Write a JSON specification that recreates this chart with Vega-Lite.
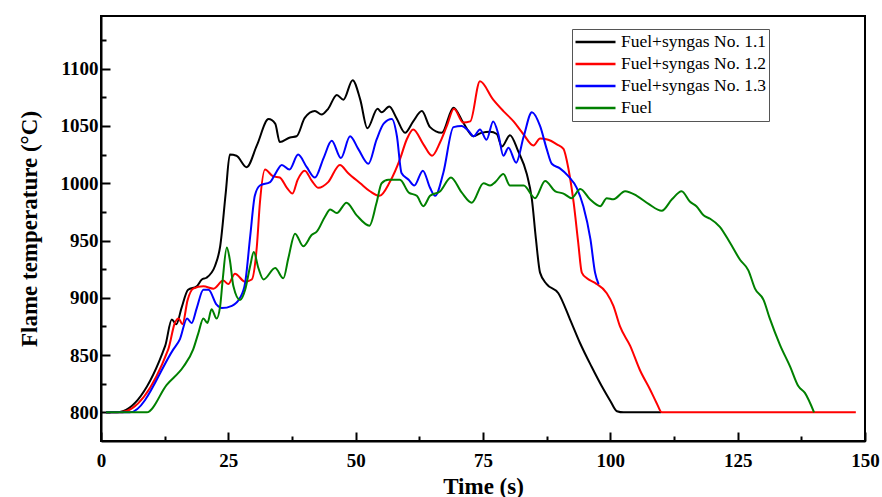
{
"$schema": "https://vega.github.io/schema/vega-lite/v6.json",
"width": 764, "height": 425,
"autosize": {"type": "none"},
"padding": {"left": 101, "top": 16, "right": 17, "bottom": 56},
"background": "white",
"config": {"view": {"stroke": "black", "strokeWidth": 2}, "font": "Liberation Serif"},
"data": {"values": [
{"t":1,"T":800,"s":"Fuel+syngas No. 1.1"},{"t":3.1,"T":800,"s":"Fuel+syngas No. 1.1"},{"t":12.6,"T":858,"s":"Fuel+syngas No. 1.1"},{"t":13.9,"T":881,"s":"Fuel+syngas No. 1.1"},{"t":14.8,"T":877,"s":"Fuel+syngas No. 1.1"},{"t":15.8,"T":891,"s":"Fuel+syngas No. 1.1"},{"t":17.1,"T":907,"s":"Fuel+syngas No. 1.1"},{"t":18.8,"T":910,"s":"Fuel+syngas No. 1.1"},{"t":19.8,"T":916,"s":"Fuel+syngas No. 1.1"},{"t":20.7,"T":917.5,"s":"Fuel+syngas No. 1.1"},{"t":22.4,"T":928,"s":"Fuel+syngas No. 1.1"},{"t":23.4,"T":945,"s":"Fuel+syngas No. 1.1"},{"t":24.5,"T":992,"s":"Fuel+syngas No. 1.1"},{"t":25.3,"T":1025,"s":"Fuel+syngas No. 1.1"},{"t":26.6,"T":1024,"s":"Fuel+syngas No. 1.1"},{"t":28.6,"T":1014,"s":"Fuel+syngas No. 1.1"},{"t":30.6,"T":1033,"s":"Fuel+syngas No. 1.1"},{"t":32.9,"T":1056,"s":"Fuel+syngas No. 1.1"},{"t":34.2,"T":1052,"s":"Fuel+syngas No. 1.1"},{"t":35.1,"T":1036,"s":"Fuel+syngas No. 1.1"},{"t":37.1,"T":1040,"s":"Fuel+syngas No. 1.1"},{"t":38.4,"T":1041,"s":"Fuel+syngas No. 1.1"},{"t":40.0,"T":1057,"s":"Fuel+syngas No. 1.1"},{"t":42.0,"T":1063,"s":"Fuel+syngas No. 1.1"},{"t":43.3,"T":1060,"s":"Fuel+syngas No. 1.1"},{"t":44.6,"T":1065,"s":"Fuel+syngas No. 1.1"},{"t":46.3,"T":1077,"s":"Fuel+syngas No. 1.1"},{"t":47.6,"T":1073,"s":"Fuel+syngas No. 1.1"},{"t":49.4,"T":1090,"s":"Fuel+syngas No. 1.1"},{"t":50.9,"T":1073,"s":"Fuel+syngas No. 1.1"},{"t":52.3,"T":1048,"s":"Fuel+syngas No. 1.1"},{"t":54.3,"T":1065,"s":"Fuel+syngas No. 1.1"},{"t":55.1,"T":1062,"s":"Fuel+syngas No. 1.1"},{"t":56.6,"T":1067,"s":"Fuel+syngas No. 1.1"},{"t":58.0,"T":1057,"s":"Fuel+syngas No. 1.1"},{"t":59.7,"T":1044,"s":"Fuel+syngas No. 1.1"},{"t":61.3,"T":1054,"s":"Fuel+syngas No. 1.1"},{"t":63.0,"T":1063,"s":"Fuel+syngas No. 1.1"},{"t":64.6,"T":1049,"s":"Fuel+syngas No. 1.1"},{"t":66.9,"T":1044,"s":"Fuel+syngas No. 1.1"},{"t":69.2,"T":1066,"s":"Fuel+syngas No. 1.1"},{"t":71.1,"T":1053,"s":"Fuel+syngas No. 1.1"},{"t":73.1,"T":1041,"s":"Fuel+syngas No. 1.1"},{"t":74.7,"T":1044,"s":"Fuel+syngas No. 1.1"},{"t":76.4,"T":1045,"s":"Fuel+syngas No. 1.1"},{"t":77.7,"T":1043,"s":"Fuel+syngas No. 1.1"},{"t":78.7,"T":1032,"s":"Fuel+syngas No. 1.1"},{"t":80.3,"T":1042,"s":"Fuel+syngas No. 1.1"},{"t":81.9,"T":1028,"s":"Fuel+syngas No. 1.1"},{"t":83.6,"T":1008,"s":"Fuel+syngas No. 1.1"},{"t":84.6,"T":986,"s":"Fuel+syngas No. 1.1"},{"t":85.4,"T":951,"s":"Fuel+syngas No. 1.1"},{"t":86.2,"T":922,"s":"Fuel+syngas No. 1.1"},{"t":87.5,"T":912,"s":"Fuel+syngas No. 1.1"},{"t":89.8,"T":904,"s":"Fuel+syngas No. 1.1"},{"t":92.1,"T":881,"s":"Fuel+syngas No. 1.1"},{"t":94.0,"T":861,"s":"Fuel+syngas No. 1.1"},{"t":96.3,"T":840,"s":"Fuel+syngas No. 1.1"},{"t":98.3,"T":823,"s":"Fuel+syngas No. 1.1"},{"t":100.0,"T":810,"s":"Fuel+syngas No. 1.1"},{"t":101.3,"T":801,"s":"Fuel+syngas No. 1.1"},{"t":102.6,"T":800,"s":"Fuel+syngas No. 1.1"},{"t":110,"T":800,"s":"Fuel+syngas No. 1.1"},
{"t":1,"T":800,"s":"Fuel+syngas No. 1.2"},{"t":3.7,"T":800,"s":"Fuel+syngas No. 1.2"},{"t":13.2,"T":855,"s":"Fuel+syngas No. 1.2"},{"t":14.5,"T":878,"s":"Fuel+syngas No. 1.2"},{"t":15.2,"T":882,"s":"Fuel+syngas No. 1.2"},{"t":16.0,"T":877,"s":"Fuel+syngas No. 1.2"},{"t":17.0,"T":898,"s":"Fuel+syngas No. 1.2"},{"t":18.1,"T":908,"s":"Fuel+syngas No. 1.2"},{"t":20.1,"T":910,"s":"Fuel+syngas No. 1.2"},{"t":22.1,"T":908,"s":"Fuel+syngas No. 1.2"},{"t":24.0,"T":915,"s":"Fuel+syngas No. 1.2"},{"t":25.0,"T":912,"s":"Fuel+syngas No. 1.2"},{"t":26.3,"T":921,"s":"Fuel+syngas No. 1.2"},{"t":28.3,"T":914,"s":"Fuel+syngas No. 1.2"},{"t":29.6,"T":916,"s":"Fuel+syngas No. 1.2"},{"t":30.6,"T":945,"s":"Fuel+syngas No. 1.2"},{"t":31.2,"T":983,"s":"Fuel+syngas No. 1.2"},{"t":32.2,"T":1012,"s":"Fuel+syngas No. 1.2"},{"t":33.8,"T":1006,"s":"Fuel+syngas No. 1.2"},{"t":35.1,"T":1005,"s":"Fuel+syngas No. 1.2"},{"t":36.5,"T":996,"s":"Fuel+syngas No. 1.2"},{"t":37.6,"T":991,"s":"Fuel+syngas No. 1.2"},{"t":38.6,"T":1003,"s":"Fuel+syngas No. 1.2"},{"t":40.0,"T":1011,"s":"Fuel+syngas No. 1.2"},{"t":41.4,"T":1002,"s":"Fuel+syngas No. 1.2"},{"t":42.7,"T":996,"s":"Fuel+syngas No. 1.2"},{"t":44.6,"T":1001,"s":"Fuel+syngas No. 1.2"},{"t":46.9,"T":1016,"s":"Fuel+syngas No. 1.2"},{"t":48.5,"T":1009,"s":"Fuel+syngas No. 1.2"},{"t":50.9,"T":1000,"s":"Fuel+syngas No. 1.2"},{"t":52.8,"T":993,"s":"Fuel+syngas No. 1.2"},{"t":54.7,"T":989,"s":"Fuel+syngas No. 1.2"},{"t":56.7,"T":1001,"s":"Fuel+syngas No. 1.2"},{"t":58.7,"T":1021,"s":"Fuel+syngas No. 1.2"},{"t":60.0,"T":1038,"s":"Fuel+syngas No. 1.2"},{"t":61.3,"T":1047,"s":"Fuel+syngas No. 1.2"},{"t":63.3,"T":1034,"s":"Fuel+syngas No. 1.2"},{"t":65.0,"T":1024,"s":"Fuel+syngas No. 1.2"},{"t":66.6,"T":1036,"s":"Fuel+syngas No. 1.2"},{"t":67.9,"T":1050,"s":"Fuel+syngas No. 1.2"},{"t":69.3,"T":1065,"s":"Fuel+syngas No. 1.2"},{"t":71.1,"T":1053,"s":"Fuel+syngas No. 1.2"},{"t":72.5,"T":1054,"s":"Fuel+syngas No. 1.2"},{"t":74.4,"T":1089,"s":"Fuel+syngas No. 1.2"},{"t":77.0,"T":1073,"s":"Fuel+syngas No. 1.2"},{"t":79.0,"T":1063,"s":"Fuel+syngas No. 1.2"},{"t":81.0,"T":1054,"s":"Fuel+syngas No. 1.2"},{"t":82.9,"T":1043,"s":"Fuel+syngas No. 1.2"},{"t":84.9,"T":1033,"s":"Fuel+syngas No. 1.2"},{"t":86.2,"T":1039,"s":"Fuel+syngas No. 1.2"},{"t":87.8,"T":1038,"s":"Fuel+syngas No. 1.2"},{"t":89.5,"T":1034,"s":"Fuel+syngas No. 1.2"},{"t":90.8,"T":1030,"s":"Fuel+syngas No. 1.2"},{"t":91.8,"T":1012,"s":"Fuel+syngas No. 1.2"},{"t":92.8,"T":983,"s":"Fuel+syngas No. 1.2"},{"t":93.7,"T":948,"s":"Fuel+syngas No. 1.2"},{"t":94.4,"T":922,"s":"Fuel+syngas No. 1.2"},{"t":95.4,"T":917,"s":"Fuel+syngas No. 1.2"},{"t":97.0,"T":913,"s":"Fuel+syngas No. 1.2"},{"t":99.3,"T":904,"s":"Fuel+syngas No. 1.2"},{"t":100.6,"T":893,"s":"Fuel+syngas No. 1.2"},{"t":101.9,"T":875,"s":"Fuel+syngas No. 1.2"},{"t":103.9,"T":858,"s":"Fuel+syngas No. 1.2"},{"t":105.8,"T":837,"s":"Fuel+syngas No. 1.2"},{"t":107.8,"T":820,"s":"Fuel+syngas No. 1.2"},{"t":109.1,"T":808,"s":"Fuel+syngas No. 1.2"},{"t":110.1,"T":800,"s":"Fuel+syngas No. 1.2"},{"t":148.2,"T":800,"s":"Fuel+syngas No. 1.2"},
{"t":1,"T":800,"s":"Fuel+syngas No. 1.3"},{"t":5.7,"T":800,"s":"Fuel+syngas No. 1.3"},{"t":14.2,"T":855,"s":"Fuel+syngas No. 1.3"},{"t":15.5,"T":864,"s":"Fuel+syngas No. 1.3"},{"t":16.9,"T":882,"s":"Fuel+syngas No. 1.3"},{"t":17.8,"T":878,"s":"Fuel+syngas No. 1.3"},{"t":18.8,"T":891,"s":"Fuel+syngas No. 1.3"},{"t":20.1,"T":907,"s":"Fuel+syngas No. 1.3"},{"t":21.1,"T":907,"s":"Fuel+syngas No. 1.3"},{"t":22.7,"T":894,"s":"Fuel+syngas No. 1.3"},{"t":23.7,"T":891,"s":"Fuel+syngas No. 1.3"},{"t":25.7,"T":893,"s":"Fuel+syngas No. 1.3"},{"t":27.3,"T":900,"s":"Fuel+syngas No. 1.3"},{"t":28.3,"T":913,"s":"Fuel+syngas No. 1.3"},{"t":29.3,"T":954,"s":"Fuel+syngas No. 1.3"},{"t":30.2,"T":989,"s":"Fuel+syngas No. 1.3"},{"t":31.2,"T":998,"s":"Fuel+syngas No. 1.3"},{"t":33.2,"T":1001,"s":"Fuel+syngas No. 1.3"},{"t":34.2,"T":1008,"s":"Fuel+syngas No. 1.3"},{"t":35.5,"T":1016,"s":"Fuel+syngas No. 1.3"},{"t":37.0,"T":1012,"s":"Fuel+syngas No. 1.3"},{"t":38.7,"T":1025,"s":"Fuel+syngas No. 1.3"},{"t":40.4,"T":1014,"s":"Fuel+syngas No. 1.3"},{"t":42.0,"T":1005,"s":"Fuel+syngas No. 1.3"},{"t":43.7,"T":1022,"s":"Fuel+syngas No. 1.3"},{"t":45.3,"T":1037,"s":"Fuel+syngas No. 1.3"},{"t":47.1,"T":1022,"s":"Fuel+syngas No. 1.3"},{"t":48.9,"T":1041,"s":"Fuel+syngas No. 1.3"},{"t":50.5,"T":1030,"s":"Fuel+syngas No. 1.3"},{"t":52.5,"T":1017,"s":"Fuel+syngas No. 1.3"},{"t":54.1,"T":1038,"s":"Fuel+syngas No. 1.3"},{"t":55.5,"T":1052,"s":"Fuel+syngas No. 1.3"},{"t":57.1,"T":1056,"s":"Fuel+syngas No. 1.3"},{"t":58.1,"T":1041,"s":"Fuel+syngas No. 1.3"},{"t":59.0,"T":1009,"s":"Fuel+syngas No. 1.3"},{"t":60.4,"T":1003,"s":"Fuel+syngas No. 1.3"},{"t":61.5,"T":998,"s":"Fuel+syngas No. 1.3"},{"t":63.2,"T":1011,"s":"Fuel+syngas No. 1.3"},{"t":64.6,"T":996,"s":"Fuel+syngas No. 1.3"},{"t":65.6,"T":989,"s":"Fuel+syngas No. 1.3"},{"t":67.2,"T":1009,"s":"Fuel+syngas No. 1.3"},{"t":69.2,"T":1049,"s":"Fuel+syngas No. 1.3"},{"t":70.8,"T":1050,"s":"Fuel+syngas No. 1.3"},{"t":72.1,"T":1046,"s":"Fuel+syngas No. 1.3"},{"t":73.2,"T":1041,"s":"Fuel+syngas No. 1.3"},{"t":74.4,"T":1047,"s":"Fuel+syngas No. 1.3"},{"t":75.7,"T":1038,"s":"Fuel+syngas No. 1.3"},{"t":77.0,"T":1054,"s":"Fuel+syngas No. 1.3"},{"t":78.0,"T":1043,"s":"Fuel+syngas No. 1.3"},{"t":79.0,"T":1024,"s":"Fuel+syngas No. 1.3"},{"t":80.0,"T":1031,"s":"Fuel+syngas No. 1.3"},{"t":81.5,"T":1018,"s":"Fuel+syngas No. 1.3"},{"t":83.0,"T":1041,"s":"Fuel+syngas No. 1.3"},{"t":84.6,"T":1062,"s":"Fuel+syngas No. 1.3"},{"t":86.2,"T":1050,"s":"Fuel+syngas No. 1.3"},{"t":87.5,"T":1030,"s":"Fuel+syngas No. 1.3"},{"t":88.5,"T":1017,"s":"Fuel+syngas No. 1.3"},{"t":90.1,"T":1013,"s":"Fuel+syngas No. 1.3"},{"t":91.8,"T":1006,"s":"Fuel+syngas No. 1.3"},{"t":93.4,"T":996,"s":"Fuel+syngas No. 1.3"},{"t":94.7,"T":980,"s":"Fuel+syngas No. 1.3"},{"t":96.1,"T":951,"s":"Fuel+syngas No. 1.3"},{"t":97.0,"T":922,"s":"Fuel+syngas No. 1.3"},{"t":97.7,"T":912,"s":"Fuel+syngas No. 1.3"},
{"t":1,"T":800,"s":"Fuel"},{"t":9.0,"T":800,"s":"Fuel"},{"t":12.9,"T":824,"s":"Fuel"},{"t":16.2,"T":840,"s":"Fuel"},{"t":18.1,"T":855,"s":"Fuel"},{"t":19.1,"T":869,"s":"Fuel"},{"t":20.1,"T":882,"s":"Fuel"},{"t":20.9,"T":878,"s":"Fuel"},{"t":21.7,"T":890,"s":"Fuel"},{"t":22.7,"T":882,"s":"Fuel"},{"t":23.4,"T":893,"s":"Fuel"},{"t":23.9,"T":916,"s":"Fuel"},{"t":24.7,"T":944,"s":"Fuel"},{"t":25.3,"T":933,"s":"Fuel"},{"t":26.0,"T":910,"s":"Fuel"},{"t":27.3,"T":898,"s":"Fuel"},{"t":28.3,"T":907,"s":"Fuel"},{"t":29.3,"T":928,"s":"Fuel"},{"t":30.0,"T":940,"s":"Fuel"},{"t":30.9,"T":926,"s":"Fuel"},{"t":31.9,"T":916,"s":"Fuel"},{"t":34.2,"T":926,"s":"Fuel"},{"t":35.8,"T":917,"s":"Fuel"},{"t":36.8,"T":935,"s":"Fuel"},{"t":38.1,"T":956,"s":"Fuel"},{"t":39.7,"T":945,"s":"Fuel"},{"t":41.4,"T":955,"s":"Fuel"},{"t":42.4,"T":958,"s":"Fuel"},{"t":44.0,"T":971,"s":"Fuel"},{"t":45.0,"T":977,"s":"Fuel"},{"t":46.3,"T":974,"s":"Fuel"},{"t":48.2,"T":983,"s":"Fuel"},{"t":50.2,"T":972,"s":"Fuel"},{"t":52.7,"T":963,"s":"Fuel"},{"t":54.1,"T":983,"s":"Fuel"},{"t":55.1,"T":1000,"s":"Fuel"},{"t":56.4,"T":1003,"s":"Fuel"},{"t":58.7,"T":1003,"s":"Fuel"},{"t":60.4,"T":992,"s":"Fuel"},{"t":62.0,"T":989,"s":"Fuel"},{"t":63.3,"T":980,"s":"Fuel"},{"t":64.6,"T":989,"s":"Fuel"},{"t":66.6,"T":993,"s":"Fuel"},{"t":68.7,"T":1005,"s":"Fuel"},{"t":70.8,"T":992,"s":"Fuel"},{"t":72.8,"T":983,"s":"Fuel"},{"t":75.1,"T":1000,"s":"Fuel"},{"t":76.4,"T":998,"s":"Fuel"},{"t":77.4,"T":1001,"s":"Fuel"},{"t":79.0,"T":1008,"s":"Fuel"},{"t":80.3,"T":998,"s":"Fuel"},{"t":83.0,"T":998,"s":"Fuel"},{"t":85.2,"T":987,"s":"Fuel"},{"t":87.2,"T":1002,"s":"Fuel"},{"t":89.2,"T":993,"s":"Fuel"},{"t":90.8,"T":991,"s":"Fuel"},{"t":92.4,"T":987,"s":"Fuel"},{"t":94.1,"T":995,"s":"Fuel"},{"t":96.0,"T":986,"s":"Fuel"},{"t":98.0,"T":980,"s":"Fuel"},{"t":99.3,"T":987,"s":"Fuel"},{"t":100.6,"T":986,"s":"Fuel"},{"t":102.9,"T":993,"s":"Fuel"},{"t":105.2,"T":989,"s":"Fuel"},{"t":107.5,"T":982,"s":"Fuel"},{"t":110.1,"T":976,"s":"Fuel"},{"t":112.1,"T":986,"s":"Fuel"},{"t":114.0,"T":993,"s":"Fuel"},{"t":115.6,"T":984,"s":"Fuel"},{"t":116.9,"T":980,"s":"Fuel"},{"t":118.3,"T":972,"s":"Fuel"},{"t":119.6,"T":969,"s":"Fuel"},{"t":121.5,"T":962,"s":"Fuel"},{"t":123.5,"T":948,"s":"Fuel"},{"t":125.5,"T":933,"s":"Fuel"},{"t":127.1,"T":924,"s":"Fuel"},{"t":128.4,"T":908,"s":"Fuel"},{"t":130.1,"T":898,"s":"Fuel"},{"t":131.3,"T":882,"s":"Fuel"},{"t":133.3,"T":859,"s":"Fuel"},{"t":135.3,"T":840,"s":"Fuel"},{"t":136.9,"T":823,"s":"Fuel"},{"t":138.2,"T":817,"s":"Fuel"},{"t":140.0,"T":800,"s":"Fuel"}
]},
"mark": {"type": "line", "strokeWidth": 2, "interpolate": "monotone"},
"encoding": {
 "x": {"field": "t", "type": "quantitative", "scale": {"domain": [0, 150], "nice": false},
   "axis": {"title": "Time (s)", "values": [0,12.5,25,37.5,50,62.5,75,87.5,100,112.5,125,137.5,150], "format": "d",
     "labelExpr": "datum.value % 25 === 0 ? datum.label : ''", "labelFlush": false, "labelOverlap": false,
     "grid": false, "domainColor": "black", "domainWidth": 2, "tickColor": "black", "tickWidth": 2,
     "tickSize": {"condition": {"test": "datum.value % 25 !== 0", "value": -5}, "value": -9},
     "labelFont": "Liberation Serif", "labelFontWeight": "bold", "labelFontSize": 19, "labelColor": "black", "labelPadding": 19,
     "titleFont": "Liberation Serif", "titleFontWeight": "bold", "titleFontSize": 23, "titleColor": "black", "titlePadding": 1}},
 "y": {"field": "T", "type": "quantitative", "scale": {"domain": [775, 1146], "nice": false, "zero": false},
   "axis": {"title": "Flame temperature (°C)", "values": [800,825,850,875,900,925,950,975,1000,1025,1050,1075,1100,1125], "format": "d",
     "labelExpr": "datum.value % 50 === 0 ? datum.label : ''", "labelFlush": false, "labelOverlap": false,
     "grid": false, "domainColor": "black", "domainWidth": 2, "tickColor": "black", "tickWidth": 2,
     "tickSize": {"condition": {"test": "datum.value % 50 !== 0", "value": -5}, "value": -9},
     "labelFont": "Liberation Serif", "labelFontWeight": "bold", "labelFontSize": 19, "labelColor": "black", "labelPadding": 12,
     "titleFont": "Liberation Serif", "titleFontWeight": "bold", "titleFontSize": 23, "titleColor": "black", "titlePadding": 19}},
 "color": {"field": "s", "type": "nominal",
   "scale": {"domain": ["Fuel+syngas No. 1.1", "Fuel+syngas No. 1.2", "Fuel+syngas No. 1.3", "Fuel"], "range": ["#000000", "#ff0000", "#0000ff", "#008000"]},
   "legend": {"title": null, "orient": "none", "legendX": 471, "legendY": 13, "symbolType": "stroke", "symbolSize": 1600, "symbolStrokeWidth": 2.5,
     "clipHeight": 22, "labelFont": "Liberation Serif", "labelFontSize": 17.5, "labelColor": "black", "strokeColor": "#555", "fillColor": "white", "padding": 2, "rowPadding": 0, "labelOffset": 4}}
}
}
